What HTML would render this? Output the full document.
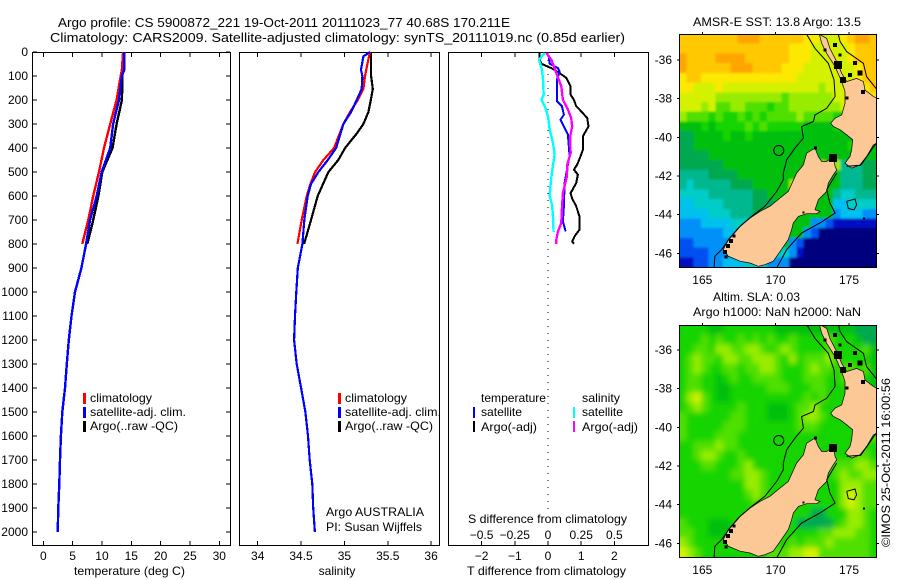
<!DOCTYPE html>
<html lang="en">
<head>
<meta charset="utf-8">
<title>Argo profile</title>
<style>
html,body{margin:0;padding:0;background:#fff;}
svg{display:block;font-family:"Liberation Sans",sans-serif;font-size:12px;fill:#000;}
.a{shape-rendering:crispEdges;}
</style>
</head>
<body>
<svg id="fig" width="900" height="580" viewBox="0 0 900 580" xmlns="http://www.w3.org/2000/svg">
<defs>
<clipPath id="clip-top"><rect x="679" y="34" width="198" height="233"/></clipPath>
<clipPath id="clip-bot"><rect x="679" y="325" width="198" height="232"/></clipPath>
<filter id="soft-sst" x="0" y="0" width="100%" height="100%"><feGaussianBlur in="SourceGraphic" stdDeviation="1.1" result="b"/><feMerge><feMergeNode in="SourceGraphic"/><feMergeNode in="b"/></feMerge></filter>
<filter id="soft-sla" x="0" y="0" width="100%" height="100%"><feGaussianBlur in="SourceGraphic" stdDeviation="3" result="b"/><feMerge><feMergeNode in="SourceGraphic"/><feMergeNode in="b"/></feMerge></filter>
</defs>
<rect width="900" height="580" fill="#fff"/>
<text x="58" y="27" font-size="13" textLength="452" lengthAdjust="spacingAndGlyphs">Argo profile: CS 5900872_221 19-Oct-2011 20111023_77 40.68S 170.211E</text>
<text x="50" y="42" font-size="13" textLength="575" lengthAdjust="spacingAndGlyphs">Climatology: CARS2009. Satellite-adjusted climatology: synTS_20111019.nc (0.85d earlier)</text>

<g id="p1"></g>
<g id="p2"></g>
<g id="p3"></g>
<g id="m1"></g>
<g id="m2"></g>

<text x="74" y="575" textLength="111" lengthAdjust="spacingAndGlyphs">temperature (deg C)</text>
<text x="337" y="575" text-anchor="middle">salinity</text>
<text x="467" y="575" textLength="159" lengthAdjust="spacingAndGlyphs">T difference from climatology</text>
<text x="468" y="523" textLength="159" lengthAdjust="spacingAndGlyphs">S difference from climatology</text>

<g>
<rect class="a" x="83" y="393" width="3" height="11" fill="#f00"/>
<rect class="a" x="83" y="407" width="3" height="11" fill="#00f"/>
<rect class="a" x="83" y="421" width="3" height="11" fill="#000"/>
<text x="90" y="402" textLength="62" lengthAdjust="spacingAndGlyphs">climatology</text>
<text x="90" y="416" textLength="96" lengthAdjust="spacingAndGlyphs">satellite-adj. clim.</text>
<text x="90" y="430" textLength="88" lengthAdjust="spacingAndGlyphs">Argo(..raw -QC)</text>
</g>
<g>
<rect class="a" x="338" y="393" width="3" height="11" fill="#f00"/>
<rect class="a" x="338" y="407" width="3" height="11" fill="#00f"/>
<rect class="a" x="338" y="421" width="3" height="11" fill="#000"/>
<text x="345" y="402" textLength="62" lengthAdjust="spacingAndGlyphs">climatology</text>
<text x="345" y="416" textLength="96" lengthAdjust="spacingAndGlyphs">satellite-adj. clim.</text>
<text x="345" y="430" textLength="88" lengthAdjust="spacingAndGlyphs">Argo(..raw -QC)</text>
<text x="326" y="516" textLength="98" lengthAdjust="spacingAndGlyphs">Argo AUSTRALIA</text>
<text x="326" y="531" textLength="96" lengthAdjust="spacingAndGlyphs">PI: Susan Wijffels</text>
</g>
<g>
<text x="481" y="402" textLength="65" lengthAdjust="spacingAndGlyphs">temperature</text>
<text x="481" y="416" textLength="41" lengthAdjust="spacingAndGlyphs">satellite</text>
<text x="481" y="431" textLength="56" lengthAdjust="spacingAndGlyphs">Argo(-adj)</text>
<rect class="a" x="473" y="407" width="2" height="11" fill="#00f"/>
<rect class="a" x="473" y="421" width="2" height="11" fill="#000"/>
<text x="582" y="402" textLength="38" lengthAdjust="spacingAndGlyphs">salinity</text>
<text x="582" y="416" textLength="41" lengthAdjust="spacingAndGlyphs">satellite</text>
<text x="582" y="431" textLength="56" lengthAdjust="spacingAndGlyphs">Argo(-adj)</text>
<rect class="a" x="573" y="407" width="2" height="11" fill="#0ff"/>
<rect class="a" x="573" y="421" width="2" height="11" fill="#f0f"/>
</g>

<text x="693" y="26" textLength="168" lengthAdjust="spacingAndGlyphs">AMSR-E SST: 13.8 Argo: 13.5</text>
<text x="713" y="301" textLength="87" lengthAdjust="spacingAndGlyphs">Altim. SLA: 0.03</text>
<text x="693" y="316" textLength="168" lengthAdjust="spacingAndGlyphs">Argo h1000: NaN h2000: NaN</text>
<text transform="translate(890,547) rotate(-90)" textLength="169" lengthAdjust="spacingAndGlyphs">©IMOS 25-Oct-2011 16:00:56</text>
</svg>

<script>
// ---- profile data (depth in m) ----
const depthDeep = [0,74,100,200,300,400,500,600,700,800,900,1000,1100,1200,1300,1400,1500,1600,1700,1800,1900,2000];
const tempSat = [13.8,13.8,13.4,12.9,11.9,11.4,9.95,9.1,7.96,7.3,6.5,5.4,4.8,4.35,4.0,3.7,3.24,3.0,2.85,2.73,2.56,2.45];
const depthShallowT = [0,74,100,200,300,400,500,600,700,800];
const tempClim = [13.6,13.4,13.2,12.5,11.4,10.35,9.5,8.5,7.67,6.65];
const tempArgo = [13.6,13.5,13.5,13.4,12.5,11.8,10.05,9.4,8.5,7.5];

const depthSArgo = [0,74,100,154,200,250,300,340,400,450,500,600,700,800];
const salArgo = [35.308,35.308,35.308,35.327,35.304,35.277,35.219,35.142,35.008,34.93,34.815,34.692,34.615,34.535];
const depthSClim = [0,30,100,154,200,250,300,400,450,500,550,600,700,800];
const salClim = [35.296,35.277,35.238,35.219,35.154,35.065,34.988,34.88,34.758,34.662,34.608,34.565,34.508,34.458];
const depthSSat = [0,18,74,100,154,200,250,300,400,450,500,550,600,700,800,900,1000,1100,1200,1300,1400,1500,1600,1700,1800,1900,2000];
const salSat = [35.296,35.219,35.192,35.208,35.2,35.142,35.077,34.988,34.904,34.808,34.7,34.615,34.577,34.538,34.515,34.462,34.445,34.43,34.42,34.45,34.5,34.55,34.58,34.6,34.63,34.64,34.66];

const depthDT = [4,32,49,67,88,108,143,178,199,226,247,275,310,351,407,435,469,490,511,546,588,608,643,685,740,768,789,799];
const diffTArgo = [-.25,-.25,-.2,.1,.35,.55,.68,.68,.78,.85,1.0,1.18,1.22,1.05,1.05,.98,.88,.78,.9,.85,.68,.72,.85,.95,.95,.8,.73,.78];
const depthDTS = [4,18,49,67,81,115,206,226,261,282,303,344,435,469,546,643,706,747];
const diffTSat = [-.05,.02,.05,.3,.35,.27,.27,.42,.48,.38,.45,.6,.65,.6,.5,.48,.45,.53];
const depthDSS = [4,32,74,115,178,199,226,268,324,379,428,490,546,601,636,685,750];
const diffSSat = [-.025,-.0675,-.045,-.0375,-.0325,-.05,-.025,0,.0125,.0375,.05,.0325,.02,.0125,.03,.0375,.0425];
const depthDSA = [4,32,88,143,199,240,275,310,351,421,469,518,588,657,713,747,782,799];
const diffSArgo = [-.0125,.025,.0625,.1,.1125,.15,.175,.1825,.1675,.17,.145,.1425,.1125,.105,.1,.075,.0625,.0625];

// ---- tick labels ----
const depthTicks = [0,100,200,300,400,500,600,700,800,900,1000,1100,1200,1300,1400,1500,1600,1700,1800,1900,2000];
const tempTicks = [0,5,10,15,20,25,30];
const salTicks = [34,34.5,35,35.5,36];
const diffTTicks = [-2,-1,0,1,2];
const diffSTicks = [-0.5,-0.25,0,0.25,0.5];
const lonTicks = [165,170,175];
const latTicks = [-36,-38,-40,-42,-44,-46];

// ---- map grids: one character per cell, index into palette ----
const palette = ['#00007f','#0008c0','#0050f0','#0090f8','#00c0f0','#00ccc8','#00b890','#00a850','#00c010','#14d400','#50e000','#98ec00','#d4f200','#fce800','#ffc800','#ffa400'];
const sstGrid = [
"eeeeeeeefffeeeeeeddcccdeffe",
"eeeeeeeeeeeeeeedddcccccdeee",
"feeeeffffeeeeeedddcccccdeee",
"feeeeeefffeeeedddcccccccdee",
"deedddddddddddddccccccccdee",
"ddcccdcccccccccccccbcccccde",
"cccccbbbbbbbbbabbbbbbccccdd",
"cccbcaabbaaa9aabbbbbbbccccc",
"baaa9a99a9a9aaaabaaaa999abb",
"888989999a9a99999888899999a",
"778888988988888888888888888",
"778888888888888888888889888",
"777788888888888888888888888",
"7777778888888888888b8b66677",
"666677778888888888888866677",
"656666677788888b88888866677",
"555566666677888888888655666",
"445555666677788888888445555",
"444455566677778888888344433",
"333444455566778888332111111",
"333333444555667883200000000",
"223333334445558320000000000",
"222233333344555310000000000",
"112233444555333000000000000"
];
const slaGrid = [
"999988999999988888888888777",
"999a9a99a9a9a99a9999a999877",
"99aa9bbaabba9aba9999a9999a8",
"9abaa9bbaabbba9b9aaab999998",
"9aba99aa9aabba999abaa9aa9a8",
"9aa9989a99aaaa999aaa99a9998",
"9aa998899999aaa999aa9999998",
"9bca9889999999999a9a9999999",
"9aba9999a9998889aab99999999",
"a999999aa9998889abba9999999",
"a99999aaa9999999aaa99999999",
"a9999aaa99999999999999999aa",
"99aaabaa9999999999999999a99",
"99abba99a999999999999999aa9",
"999aa999ab99999999999aaabba",
"9999999aabba999999999abaabb",
"999999999bba9999999999bbbaa",
"999999999aba9999999999bcbaa",
"9999999999a99999999999bcbaa",
"99999999999999999977999bba9",
"a999888999999999777779abba9",
"aa99888999999999999aabbbaa9",
"ba9999999999999a9aaabaaaaa9",
"cba999999999aaabbccaaaaaaa9"
];

// ---- geography (lon, lat) ----
const southIsland = [[166.43,-45.81],[166.77,-45.29],[167.45,-44.69],[168.25,-44.18],[168.93,-43.83],[169.61,-43.57],[170.30,-43.14],[170.86,-42.80],[171.43,-41.85],[171.89,-41.42],[172.11,-40.82],[172.68,-40.56],[172.91,-40.99],[173.14,-41.25],[173.48,-41.25],[173.93,-40.99],[174.05,-41.51],[174.16,-41.68],[173.93,-41.94],[173.59,-42.37],[173.48,-42.80],[172.91,-43.23],[172.68,-43.75],[173.02,-43.83],[172.80,-43.95],[172.11,-43.95],[171.55,-44.09],[171.20,-44.43],[171.09,-44.78],[170.86,-45.29],[170.30,-45.90],[169.84,-46.41],[169.27,-46.59],[168.82,-46.67],[168.25,-46.50],[167.57,-46.41],[166.77,-46.15]];
const northIsland = [[172.98,-34.67],[173.48,-34.88],[173.70,-35.40],[174.16,-36.09],[174.50,-36.69],[174.84,-37.12],[175.52,-36.95],[175.98,-37.12],[176.09,-37.55],[176.66,-37.89],[177.11,-38.07],[177.11,-40.22],[176.66,-40.39],[176.20,-40.99],[175.75,-41.42],[175.18,-41.59],[174.73,-41.34],[175.07,-40.99],[175.18,-40.65],[175.25,-40.13],[174.84,-39.87],[174.39,-39.61],[173.93,-39.44],[173.75,-39.27],[174.05,-39.01],[174.50,-38.84],[174.73,-38.24],[174.73,-37.64],[174.50,-37.12],[174.05,-36.34],[173.48,-35.66],[173.14,-35.14]];
const contourWest = [[172.11,-34.67],[172.68,-35.40],[173.59,-36.17],[173.98,-37.03],[174.05,-37.89],[173.48,-38.50],[172.68,-38.84],[172.57,-39.18],[171.77,-39.44],[171.89,-40.04],[171.32,-40.56],[170.75,-41.16],[170.52,-41.85],[170.52,-42.20],[170.07,-42.80],[169.27,-43.57],[168.36,-44.09],[167.57,-44.61],[166.89,-45.21],[166.32,-45.81],[165.86,-46.15],[165.80,-46.76]];
const contourNorth = [[174.27,-34.67],[174.39,-35.05],[174.84,-35.57],[175.98,-36.17],[176.20,-36.86],[176.93,-37.55]];
const contourSouth = [[174.16,-41.85],[173.48,-42.71],[173.70,-43.40],[174.05,-43.92],[173.02,-44.43],[171.77,-44.95],[170.75,-45.81],[170.07,-46.76]];
const contourEast = [[174.84,-41.5],[175.8,-41.45],[176.93,-40.22]];
const contourRise = [[174.84,-43.31],[175.41,-43.19],[175.52,-43.49],[175.34,-43.75],[174.95,-43.69],[174.84,-43.31]];
const speckles = [[174.05,-35.22,4],[174.25,-36.26,8],[174.39,-35.74,3],[174.59,-37.03,6],[175.41,-36.16,4],[175.75,-36.67,5],[175.07,-36.78,4],[175.96,-37.66,4],[174.86,-37.97,3],[173.36,-35.48,3],[166.55,-45.93,4],[166.75,-45.62,4],[166.96,-45.36,4],[167.16,-45.1,3],[166.62,-46.19,3],[173.91,-41.07,8],[171.9,-43.9,2],[172.7,-40.55,3],[176.02,-44.21,2]];
const floatLon = 170.211;
const floatLat = -40.68;

// ---- scales ----
const NS = 'http://www.w3.org/2000/svg';
const yDepth = d => 52 + d * 0.24;
const xTemp = t => 43.3 + t * 5.867;
const xSal = s => 257.7 + (s - 34) * 86.7;
const xDiffT = v => 548 + v * 33.2;
const xDiffS = v => 548 + v * 132.8;

function mk(parent, tag, attrs, txt) {
  const el = document.createElementNS(NS, tag);
  for (const k in attrs) el.setAttribute(k, attrs[k]);
  if (txt !== undefined) el.textContent = txt;
  parent.appendChild(el);
  return el;
}
function frame(g, x, y, w, h) {
  const el = mk(g, 'rect', {x: x, y: y, width: w, height: h, fill: 'none', stroke: '#000', 'stroke-width': 1, class: 'a'});
  
  
}
function tick(g, x1, y1, x2, y2) {
  const el = mk(g, 'line', {x1: x1, y1: y1, x2: x2, y2: y2, stroke: '#000', 'stroke-width': 1, class: 'a'});
  
  
}
function label(g, x, y, s, anchor) {
  const el = mk(g, 'text', {x: x, y: y, 'text-anchor': anchor}, s);
  
  
}
function series(g, xs, ds, fx, color, w, name) {
  const pts = xs.map((v, i) => fx(v).toFixed(1) + ',' + yDepth(ds[i]).toFixed(1)).join(' ');
  const el = mk(g, 'polyline', {points: pts, fill: 'none', stroke: color, 'stroke-width': w, class: 'a', 'stroke-linejoin': 'round'});
  
  
}

// temperature panel
const p1 = document.getElementById('p1');
frame(p1, 32.5, 52.5, 198, 493);
depthTicks.forEach(d => {
  tick(p1, 33, yDepth(d), 37, yDepth(d));
  tick(p1, 226, yDepth(d), 230, yDepth(d));
  label(p1, 28, yDepth(d) + 4, String(d), 'end');
});
tempTicks.forEach(t => {
  tick(p1, xTemp(t), 53, xTemp(t), 57);
  tick(p1, xTemp(t), 541, xTemp(t), 545);
  label(p1, xTemp(t), 560, String(t), 'middle');
});
series(p1, tempArgo, depthShallowT, xTemp, '#000', 2.4, 'temperature-argo-line');
series(p1, tempClim, depthShallowT, xTemp, '#f00', 2.4, 'temperature-climatology-line');
series(p1, tempSat, depthDeep, xTemp, '#00f', 2.4, 'temperature-satellite-line');

// salinity panel
const p2 = document.getElementById('p2');
frame(p2, 239.5, 52.5, 200, 493);
salTicks.forEach(s => {
  tick(p2, xSal(s), 53, xSal(s), 57);
  tick(p2, xSal(s), 541, xSal(s), 545);
  label(p2, xSal(s), 560, String(s), 'middle');
});
series(p2, salArgo, depthSArgo, xSal, '#000', 2.2, 'salinity-argo-line');
series(p2, salClim, depthSClim, xSal, '#f00', 2.2, 'salinity-climatology-line');
series(p2, salSat, depthSSat, xSal, '#00f', 2.2, 'salinity-satellite-line');

// difference panel
const p3 = document.getElementById('p3');
frame(p3, 448.5, 52.5, 200, 493);
const zero = mk(p3, 'line', {x1: xDiffT(0), y1: 53, x2: xDiffT(0), y2: 515, stroke: '#000', 'stroke-width': 1, 'stroke-dasharray': '1 6', class: 'a'});


diffTTicks.forEach(v => {
  tick(p3, xDiffT(v), 53, xDiffT(v), 57);
  tick(p3, xDiffT(v), 541, xDiffT(v), 545);
  label(p3, xDiffT(v), 560, String(v).replace('-', '\u2212'), 'middle');
});
diffSTicks.forEach(v => {
  label(p3, xDiffS(v), 539, String(v).replace('-', '\u2212'), 'middle');
});
series(p3, diffTArgo, depthDT, xDiffT, '#000', 2, 'difference-t-argo-line');
series(p3, diffTSat, depthDTS, xDiffT, '#00f', 2, 'difference-t-satellite-line');
series(p3, diffSSat, depthDSS, xDiffS, '#0ff', 2.4, 'difference-s-satellite-line');
series(p3, diffSArgo, depthDSA, xDiffS, '#f0f', 2.4, 'difference-s-argo-line');

// maps
function drawMap(g, grid, top, bottom, lat36, clipId, softId, name) {
  const cols = grid[0].length;
  const rows = grid.length;
  const left = 679;
  const right = 877;
  const cw = (right - left) / cols;
  const ch = (bottom - top) / rows;
  const px = lon => 702.3 + (lon - 165) * 14.67;
  const py = lat => lat36 + (-36 - lat) * 19.33;
  const poly = pts => pts.map(p => px(p[0]).toFixed(1) + ',' + py(p[1]).toFixed(1)).join(' ');
  const field = mk(g, 'g', {'clip-path': 'url(#' + clipId + ')'});
  
  
  const cells = mk(field, 'g', {filter: 'url(#' + softId + ')'});
  
  
  grid.forEach((row, r) => {
    for (let c = 0; c < cols; c++) {
      const cell = mk(cells, 'rect', {x: (left + c * cw).toFixed(2), y: (top + r * ch).toFixed(2), width: (cw + 0.4).toFixed(2), height: (ch + 0.4).toFixed(2), fill: palette[parseInt(row[c], 16)], class: 'a'});
      
      
    }
  });
  [southIsland, northIsland].forEach(pts => {
    const land = mk(field, 'polygon', {points: poly(pts), fill: '#fcc896', stroke: '#000', 'stroke-width': 0.7});
    
    
  });
  speckles.forEach(s => {
    const sp = mk(field, 'rect', {x: px(s[0]) - s[2] / 2, y: py(s[1]) - s[2] / 2, width: s[2], height: s[2], fill: '#000', class: 'a'});
    
    
  });
  [contourWest, contourNorth, contourSouth, contourEast, contourRise].forEach(pts => {
    const line = mk(field, 'polyline', {points: poly(pts), fill: 'none', stroke: '#000', 'stroke-width': 1});
    
    
  });
  const dot = mk(field, 'circle', {cx: px(floatLon), cy: py(floatLat), r: 5, fill: 'none', stroke: '#000', 'stroke-width': 1});
  
  
  frame(g, left + 0.5, top + 0.5, right - left - 1, bottom - top);
  lonTicks.forEach(l => {
    tick(g, px(l), top - 2, px(l), top);
    label(g, px(l), bottom + 17, String(l), 'middle');
  });
  latTicks.forEach(l => {
    tick(g, left - 2, py(l), left, py(l));
    tick(g, right, py(l), right + 2, py(l));
    label(g, 672, py(l) + 4, String(l), 'end');
  });
}
drawMap(document.getElementById('m1'), sstGrid, 34, 267, 60, 'clip-top', 'soft-sst', 'sst-map');
drawMap(document.getElementById('m2'), slaGrid, 325, 557, 350, 'clip-bot', 'soft-sla', 'sla-map');
</script>
</body>
</html>
